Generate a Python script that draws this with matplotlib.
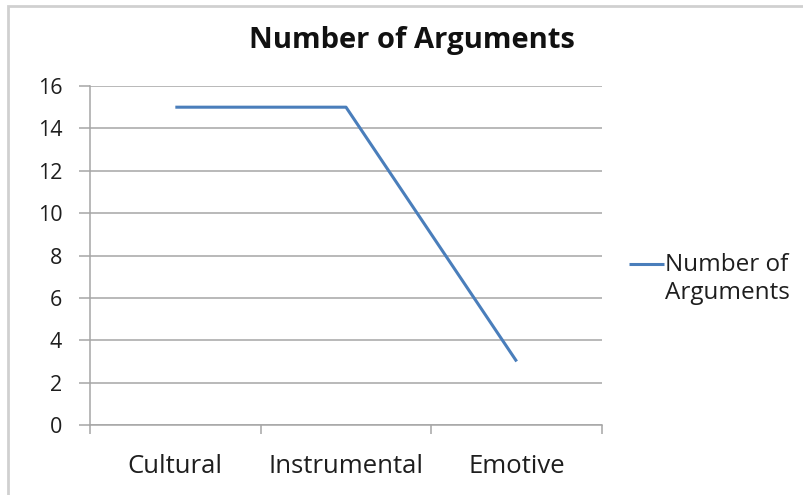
import matplotlib
matplotlib.use("Agg")
import numpy as np
import matplotlib.pyplot as plt
from matplotlib.patches import Rectangle
from matplotlib.ticker import FixedLocator
from matplotlib.legend_handler import HandlerLine2D

categories = ["Cultural", "Instrumental", "Emotive"]
values = [15, 15, 3]
yticks = [0, 2, 4, 6, 8, 10, 12, 14, 16]
series_name = "Number of\nArguments"
title = "Number of Arguments"

plt.rcParams['font.family'] = ['Open Sans', 'DejaVu Sans']


class UpHandler(HandlerLine2D):
    def __init__(self, dy, **kw):
        super().__init__(**kw)
        self.dy = dy

    def create_artists(self, legend, orig_handle, xdescent, ydescent, width, height,
                       fontsize, trans):
        arts = super().create_artists(legend, orig_handle, xdescent, ydescent, width,
                                      height, fontsize, trans)
        for a in arts:
            a.set_ydata(np.asarray(a.get_ydata(), dtype=float) + self.dy)
        return arts


fig = plt.figure(figsize=(8.04, 4.95), dpi=100)
ax = fig.add_axes([90/804, 1-425/495, (602-90)/804, (425-86)/495])

xs = [i + 0.5 for i in range(len(categories))]
line, = ax.plot(xs, values, color="#4a7ebb", lw=2.2, solid_capstyle="butt")

ax.set_xlim(0, len(categories))
ax.set_ylim(0, 16)
ax.set_yticks(yticks)
ax.yaxis.grid(True, color="#a6a6a6", lw=1.1)
ax.set_axisbelow(True)

ax.xaxis.set_major_locator(FixedLocator(range(len(categories) + 1)))
ax.xaxis.set_minor_locator(FixedLocator(xs))
ax.set_xticklabels([], minor=False)
ax.set_xticklabels(categories, minor=True)
ax.tick_params(axis="x", which="major", length=6.5, width=1.1, color="#a6a6a6", direction="out")
ax.tick_params(axis="x", which="minor", length=0, pad=21, labelsize=18.5, labelcolor="#1e1e1e")
ax.tick_params(axis="y", length=8, width=1.1, color="#a6a6a6", labelsize=15.5, labelcolor="#1e1e1e", pad=12)

for s in ["top", "right"]:
    ax.spines[s].set_visible(False)
for s in ["left", "bottom"]:
    ax.spines[s].set_color("#a6a6a6")
    ax.spines[s].set_linewidth(1.1)

fig.text(412/804, 1 - 48/495, title, ha="center", va="baseline",
         fontsize=21, fontweight="bold", color="#111111")

leg = fig.legend([line], [series_name], loc="center left",
                 bbox_to_anchor=(607/804, 1 - 279/495), frameon=False,
                 fontsize=17.5, handlelength=1.45, handletextpad=0.05,
                 labelcolor="#1e1e1e",
                 handler_map={line: UpHandler(dy=11)})
for t in leg.get_texts():
    t.set_linespacing(1.2)

fig.patches.append(Rectangle((8/804, -0.1), 1.2, 1 - 6/495 + 0.1, transform=fig.transFigure,
                             fill=False, edgecolor="#d0d0d0", lw=2))

fig.savefig("out.png", dpi=100, facecolor="white")
